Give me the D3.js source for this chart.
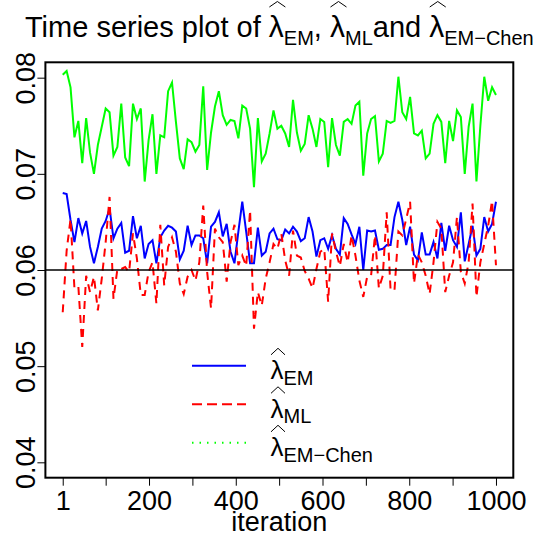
<!DOCTYPE html>
<html>
<head>
<meta charset="utf-8">
<script src="https://cdn.jsdelivr.net/npm/d3@7"></script>
<style>
  html, body { margin: 0; padding: 0; background: #fff; }
  svg { display: block; }
</style>
</head>
<body>
<svg id="chart" width="540" height="535"></svg>
<script>
// ---------------- data ----------------
const iterStart = 1, iterStep = 9, nPoints = 112;
const iterations = d3.range(nPoints).map(k => iterStart + iterStep * k);

const lambdaEM = [
  0.0680,0.0679,0.0652,0.0629,0.0654,0.0638,0.0651,0.0624,0.0607,0.0624,0.0643,0.0651,0.0664,0.0633,0.0643,0.0649,0.0618,0.0620,0.0656,0.0633,0.0646,0.0612,0.0627,0.0631,0.0607,0.0634,0.0641,0.0646,
  0.0644,0.0640,0.0611,0.0620,0.0646,0.0626,0.0636,0.0636,0.0633,0.0607,0.0645,0.0650,0.0660,0.0635,0.0648,0.0619,0.0607,0.0640,0.0671,0.0640,0.0607,0.0607,0.0644,0.0615,0.0619,0.0638,0.0643,0.0632,
  0.0631,0.0642,0.0638,0.0645,0.0640,0.0630,0.0633,0.0655,0.0640,0.0614,0.0631,0.0633,0.0622,0.0636,0.0622,0.0616,0.0654,0.0648,0.0637,0.0627,0.0645,0.0600,0.0641,0.0640,0.0641,0.0621,0.0622,0.0626,
  0.0626,0.0655,0.0671,0.0652,0.0626,0.0645,0.0616,0.0610,0.0639,0.0616,0.0616,0.0629,0.0612,0.0649,0.0620,0.0646,0.0631,0.0624,0.0660,0.0609,0.0627,0.0646,0.0615,0.0622,0.0655,0.0640,0.0648,0.0671
];
const lambdaML = [
  0.0556,0.0620,0.0653,0.0581,0.0583,0.0520,0.0594,0.0577,0.0593,0.0558,0.0591,0.0629,0.0676,0.0570,0.0601,0.0601,0.0603,0.0598,0.0638,0.0612,0.0574,0.0574,0.0598,0.0608,0.0565,0.0647,0.0584,0.0624,
  0.0634,0.0619,0.0586,0.0575,0.0593,0.0600,0.0589,0.0608,0.0667,0.0598,0.0560,0.0643,0.0634,0.0629,0.0588,0.0629,0.0647,0.0605,0.0615,0.0604,0.0662,0.0539,0.0577,0.0563,0.0591,0.0608,0.0627,0.0622,
  0.0638,0.0610,0.0594,0.0641,0.0615,0.0613,0.0599,0.0591,0.0581,0.0601,0.0619,0.0622,0.0567,0.0638,0.0619,0.0604,0.0627,0.0608,0.0636,0.0615,0.0589,0.0572,0.0593,0.0594,0.0636,0.0581,0.0594,0.0660,
  0.0579,0.0579,0.0640,0.0636,0.0653,0.0671,0.0586,0.0616,0.0608,0.0594,0.0575,0.0608,0.0650,0.0643,0.0577,0.0594,0.0608,0.0655,0.0598,0.0586,0.0608,0.0669,0.0572,0.0608,0.0627,0.0646,0.0672,0.0605
];
const lambdaChen = [
  0.0803,0.0807,0.0790,0.0738,0.0755,0.0711,0.0758,0.0722,0.0700,0.0730,0.0749,0.0768,0.0764,0.0719,0.0728,0.0773,0.0717,0.0708,0.0773,0.0757,0.0768,0.0692,0.0735,0.0762,0.0700,0.0740,0.0738,0.0786,
  0.0795,0.0754,0.0716,0.0705,0.0736,0.0733,0.0723,0.0730,0.0791,0.0704,0.0743,0.0770,0.0786,0.0761,0.0751,0.0756,0.0755,0.0737,0.0771,0.0768,0.0747,0.0686,0.0758,0.0713,0.0721,0.0742,0.0766,0.0747,
  0.0750,0.0742,0.0728,0.0777,0.0743,0.0724,0.0731,0.0761,0.0747,0.0728,0.0757,0.0754,0.0707,0.0758,0.0730,0.0719,0.0754,0.0757,0.0752,0.0771,0.0775,0.0698,0.0742,0.0757,0.0760,0.0713,0.0721,0.0755,
  0.0753,0.0755,0.0801,0.0764,0.0757,0.0780,0.0742,0.0740,0.0745,0.0716,0.0721,0.0752,0.0761,0.0754,0.0711,0.0755,0.0734,0.0766,0.0759,0.0700,0.0749,0.0773,0.0692,0.0750,0.0801,0.0776,0.0790,0.0782
];
const refLine = 0.06;

const xTicks = [1,100,200,300,400,500,600,700,800,900,1000];
const xTickLabels = ["1","","200","","400","","600","","800","","1000"];
const yTicks = [0.04,0.05,0.06,0.07,0.08];
const yTickLabels = ["0.04","0.05","0.06","0.07","0.08"];
const xTitle = "iteration";
const titleText = "Time series plot of ";
const legendSubs = ["EM","ML","EM\u2212Chen"];
const seriesColors = ["#0000ff","#ff0000","#00ff00"];

// ---------------- layout ----------------
const FONT = "'Liberation Sans', Arial, Helvetica, sans-serif";
const svg = d3.select("#chart");
const plotL = 45.4, plotR = 513.3, plotT = 62.3, plotB = 477.7;

const xr = [1, 1000], yr = [0.04, 0.08];
const xPad = (xr[1]-xr[0])*0.04, yPad = (yr[1]-yr[0])*0.04;
const x = d3.scaleLinear().domain([xr[0]-xPad, xr[1]+xPad]).range([plotL, plotR]);
const y = d3.scaleLinear().domain([yr[0]-yPad, yr[1]+yPad]).range([plotB, plotT]);

svg.append("rect").attr("width",540).attr("height",535).attr("fill","#fff");

// series
const line = d3.line().x((d,i) => x(iterations[i])).y(d => y(d));
const g = svg.append("g");
g.append("path").datum(lambdaEM).attr("d", line).attr("fill","none")
  .attr("stroke", seriesColors[0]).attr("stroke-width", 2);
g.append("path").datum(lambdaML).attr("d", line).attr("fill","none")
  .attr("stroke", seriesColors[1]).attr("stroke-width", 2).attr("stroke-dasharray","8,6");
g.append("path").datum(lambdaChen).attr("d", line).attr("fill","none")
  .attr("stroke", seriesColors[2]).attr("stroke-width", 2);

// reference line
svg.append("line").attr("x1", plotL).attr("x2", plotR)
  .attr("y1", y(refLine)).attr("y2", y(refLine))
  .attr("stroke","#000").attr("stroke-width",1.3);

// box
svg.append("rect").attr("x",plotL).attr("y",plotT)
  .attr("width",plotR-plotL).attr("height",plotB-plotT)
  .attr("fill","none").attr("stroke","#000").attr("stroke-width",2);

// axes
const xAxis = svg.append("g").attr("transform",`translate(0,${plotB})`)
  .call(d3.axisBottom(x).tickValues(xTicks).tickSize(8)
        .tickFormat((d,i) => xTickLabels[i]));
xAxis.select(".domain").remove();
xAxis.selectAll("line").attr("stroke","#000").attr("stroke-width",1);
xAxis.selectAll("text").attr("y",32).attr("dy",0)
  .attr("font-family",FONT).attr("font-size",27).attr("fill","#000");

const yAxis = svg.append("g").attr("transform",`translate(${plotL},0)`)
  .call(d3.axisLeft(y).tickValues(yTicks).tickSize(8)
        .tickFormat((d,i) => yTickLabels[i]));
yAxis.select(".domain").remove();
yAxis.selectAll("line").attr("stroke","#000").attr("stroke-width",1);
yAxis.selectAll("text").attr("x",null).attr("dy",0)
  .attr("transform","translate(-10,0) rotate(-90)")
  .attr("text-anchor","middle")
  .attr("font-family",FONT).attr("font-size",27).attr("fill","#000");

// x title
svg.append("text").attr("x",(plotL+plotR)/2).attr("y",531)
  .attr("text-anchor","middle").attr("font-family",FONT).attr("font-size",27)
  .text(xTitle);

// math helper: pieces placed sequentially
function mathRow(parent, pieces, x0, base, hatSpec) {
  let cx = x0;
  pieces.forEach(p => {
    const t = parent.append("text").attr("x",cx).attr("y",base + (p.dy||0))
      .attr("font-family",FONT).attr("font-size",p.s).attr("fill","#000")
      .style("white-space","pre").text(p.t);
    const w = t.node().getComputedTextLength();
    if (p.hat) {
      const hx0 = cx + 0.5, hx1 = cx + w + 1.5;
      parent.append("path")
        .attr("d",`M${hx0},${base-hatSpec.lo} L${(hx0+hx1)/2},${base-hatSpec.hi} L${hx1},${base-hatSpec.lo}`)
        .attr("fill","none").attr("stroke","#000").attr("stroke-width",1);
    }
    cx += w + (p.after||0);
  });
  return cx - x0;
}

// title
const tg = svg.append("g");
const lam = "\u03bb";
const titlePieces = [
  {t:titleText, s:29},
  {t:lam, s:30, hat:true},
  {t:legendSubs[0], s:20, dy:8},
  {t:", ", s:29},
  {t:lam, s:30, hat:true},
  {t:legendSubs[1], s:20, dy:8},
  {t:"and ", s:29},
  {t:lam, s:30, hat:true},
  {t:legendSubs[2], s:20, dy:8}
];
const tw = mathRow(tg, titlePieces, 0, 37, {lo:30, hi:35.5});
tg.attr("transform",`translate(${(plotL+plotR)/2 - tw/2},0)`);

// legend
const legX1 = 192, legX2 = 246, legTextX = 270.5;
const legLineY = [365.7, 404.2, 442.7];
const legDash = [null, "10,5", "1.5,6"];
legendSubs.forEach((sub,i) => {
  const ln = svg.append("line").attr("x1",legX1).attr("x2",legX2)
    .attr("y1",legLineY[i]).attr("y2",legLineY[i])
    .attr("stroke",seriesColors[i]).attr("stroke-width",2);
  if (legDash[i]) ln.attr("stroke-dasharray",legDash[i]);
  const lg = svg.append("g");
  mathRow(lg, [{t:lam, s:26, hat:true},{t:sub, s:20, dy:5.5}],
          legTextX, legLineY[i] + 13.6, {lo:24.5, hi:31});
});
</script>
</body>
</html>
